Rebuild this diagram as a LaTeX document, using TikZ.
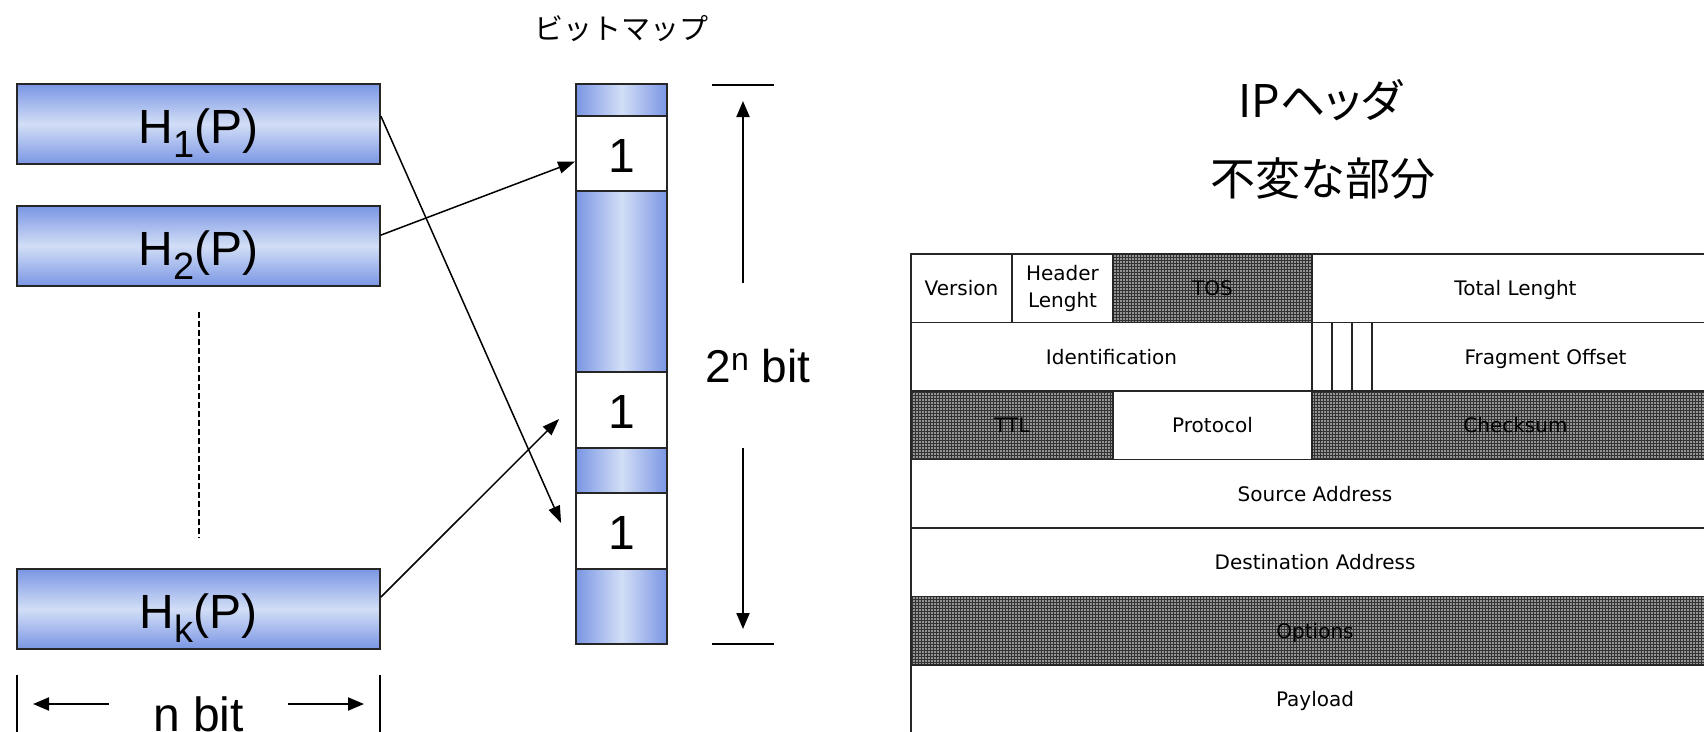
\documentclass[tikz,border=0pt]{standalone}
\usepackage{fontspec}
\setmainfont{Liberation Sans}
\newfontfamily\jpfont{Noto Sans CJK JP}
\newfontfamily\jpprop[RawFeature=+palt]{Noto Sans CJK JP}
\newfontfamily\tabfont{DejaVu Sans}
\usetikzlibrary{arrows.meta,patterns,calc,fit}
\definecolor{bdark}{RGB}{122,150,228}
\definecolor{blight}{RGB}{210,222,246}
\newcommand{\sbs}[1]{\raisebox{-14pt}{\fontsize{38}{40}\selectfont #1}}
\newcommand{\sps}[1]{\raisebox{12pt}{\fontsize{32}{34}\selectfont #1}}
\tikzset{
  hbox/.style={draw=black!85, line width=1.8pt, minimum width=363pt, minimum height=80pt,
    inner sep=0pt, top color=bdark, bottom color=bdark, middle color=blight,
    font=\fontsize{48}{56}\selectfont, text height=38pt, text depth=0pt},
  cellone/.style={draw=black!85, line width=1.8pt, fill=white, minimum width=91pt,
    inner sep=0pt, font=\fontsize{48}{56}\selectfont, text height=37pt, text depth=0pt},
  conn/.style={line width=1.5pt, -{Triangle[length=17pt,width=12pt]}},
  dimarrow/.style={line width=2pt, -{Triangle[length=16pt,width=13pt]}},
  tick/.style={line width=2pt},
  fld/.style={draw=black!85, line width=1.3pt, inner sep=0pt},
  ftxt/.style={inner sep=0pt, font=\tabfont\fontsize{20}{26}\selectfont, text height=14.5pt, text depth=0pt},
  shaded/.style={preaction={fill=black!42}, pattern=grid, pattern color=black!80},
  title/.style={inner sep=0pt}
}
\begin{document}
\begin{tikzpicture}[x=1pt,y=-1pt]
\useasboundingbox (0,0) rectangle (1704,731);

% titles
\node[title, font=\jpfont\fontsize{29}{32}\selectfont] (tbm) at (621,29) {ビットマップ};
\node[title, font=\jpprop\fontsize{45}{50}\selectfont] (tip) at (1320,100) {IPヘッダ};
\node[title, font=\jpfont\fontsize{45}{50}\selectfont] (tfix) at (1323,179) {不変な部分};

% hash boxes
\node[hbox] (h1) at (198.5,124) {H\sbs{1}(P)};
\node[hbox] (h2) at (198.5,246) {H\sbs{2}(P)};
\node[hbox] (hk) at (198.5,609) {H\sbs{k}(P)};
\coordinate (dtop) at (199,312);
\coordinate (dbot) at (199,538);
\draw[line width=1.2pt, dash pattern=on 6pt off 3pt] (dtop) -- (dbot);

% n bit
\coordinate (bl1) at (17,675);
\coordinate (bl2) at (17,740);
\coordinate (br1) at (380,675);
\coordinate (br2) at (380,740);
\draw[tick] (bl1) -- (bl2);
\draw[tick] (br1) -- (br2);
\node[inner sep=0pt, font=\fontsize{48}{56}\selectfont, anchor=base] (nbit) at (198.5,731) {n bit};
\coordinate (la1) at (109,704);
\coordinate (la2) at (33,704);
\coordinate (ra1) at (288,704);
\coordinate (ra2) at (364,704);
\draw[dimarrow] (la1) -- (la2);
\draw[dimarrow] (ra1) -- (ra2);

% bitmap column
\node[draw=black!85, line width=1.8pt, minimum width=91pt, minimum height=560pt, inner sep=0pt,
  left color=bdark, right color=bdark, middle color=blight] (col) at (621.5,364) {};
\node[cellone, minimum height=75pt] (c1) at (621.5,153.5) {1};
\node[cellone, minimum height=76pt] (c2) at (621.5,410) {1};
\node[cellone, minimum height=76pt] (c3) at (621.5,531) {1};

% dimension 2^n bit
\coordinate (tt1) at (712,85);
\coordinate (tt2) at (774,85);
\coordinate (tb1) at (712,644);
\coordinate (tb2) at (774,644);
\draw[tick] (tt1) -- (tt2);
\draw[tick] (tb1) -- (tb2);
\coordinate (ua1) at (743,283);
\coordinate (ua2) at (743,101);
\coordinate (da1) at (743,448);
\coordinate (da2) at (743,629);
\draw[dimarrow] (ua1) -- (ua2);
\draw[dimarrow] (da1) -- (da2);
\node[inner sep=0pt, font=\fontsize{46}{52}\selectfont, anchor=base] (nbits) at (758,382) {2\sps{n} bit};

% connectors
\draw[conn] ($(h1.north east)+(0,33)$) -- ($(c3.west)+(-14,-8)$);
\draw[conn] ($(h2.north east)+(0,30)$) -- ($(c1.west)+(0,8)$);
\draw[conn] ($(hk.north east)+(0,29)$) -- ($(c2.west)+(-16,9)$);

% IP header table
\node[fld, fit={(911,254)(1012,322.5)}] (ver) {};
\node[fld, fit={(1012,254)(1113,322.5)}] (hl) {};
\node[fld, shaded, fit={(1113,254)(1312,322.5)}] (tos) {};
\node[fld, fit={(1312,254)(1719,322.5)}] (tot) {};
\node[fld, fit={(911,322.5)(1312,391)}] (ident) {};
\node[fld, fit={(1312,322.5)(1332,391)}] (fl1) {};
\node[fld, fit={(1332,322.5)(1352,391)}] (fl2) {};
\node[fld, fit={(1352,322.5)(1372,391)}] (fl3) {};
\node[fld, fit={(1372,322.5)(1719,391)}] (frag) {};
\node[fld, shaded, fit={(911,391)(1113,459.5)}] (ttl) {};
\node[fld, fit={(1113,391)(1312,459.5)}] (proto) {};
\node[fld, shaded, fit={(1312,391)(1719,459.5)}] (chk) {};
\node[fld, fit={(911,459.5)(1719,528)}] (src) {};
\node[fld, fit={(911,528)(1719,596.5)}] (dst) {};
\node[fld, shaded, fit={(911,596.5)(1719,665)}] (opt) {};
\node[fld, fit={(911,665)(1719,733.5)}] (pay) {};

\node[ftxt] (verT) at (ver.center) {Version};
\node[inner sep=0pt, font=\tabfont\fontsize{20}{27}\selectfont, align=center] (hlT) at (hl.center) {Header\\Lenght};
\node[ftxt] (tosT) at (tos.center) {TOS};
\node[ftxt] (totT) at (tot.center) {Total Lenght};
\node[ftxt] (identT) at (ident.center) {Identification};
\node[ftxt] (fragT) at (frag.center) {Fragment Offset};
\node[ftxt] (ttlT) at (ttl.center) {TTL};
\node[ftxt] (protoT) at (proto.center) {Protocol};
\node[ftxt] (chkT) at (chk.center) {Checksum};
\node[ftxt] (srcT) at (src.center) {Source Address};
\node[ftxt] (dstT) at (dst.center) {Destination Address};
\node[ftxt] (optT) at (opt.center) {Options};
\node[ftxt] (payT) at (pay.center) {Payload};
\end{tikzpicture}
\end{document}
